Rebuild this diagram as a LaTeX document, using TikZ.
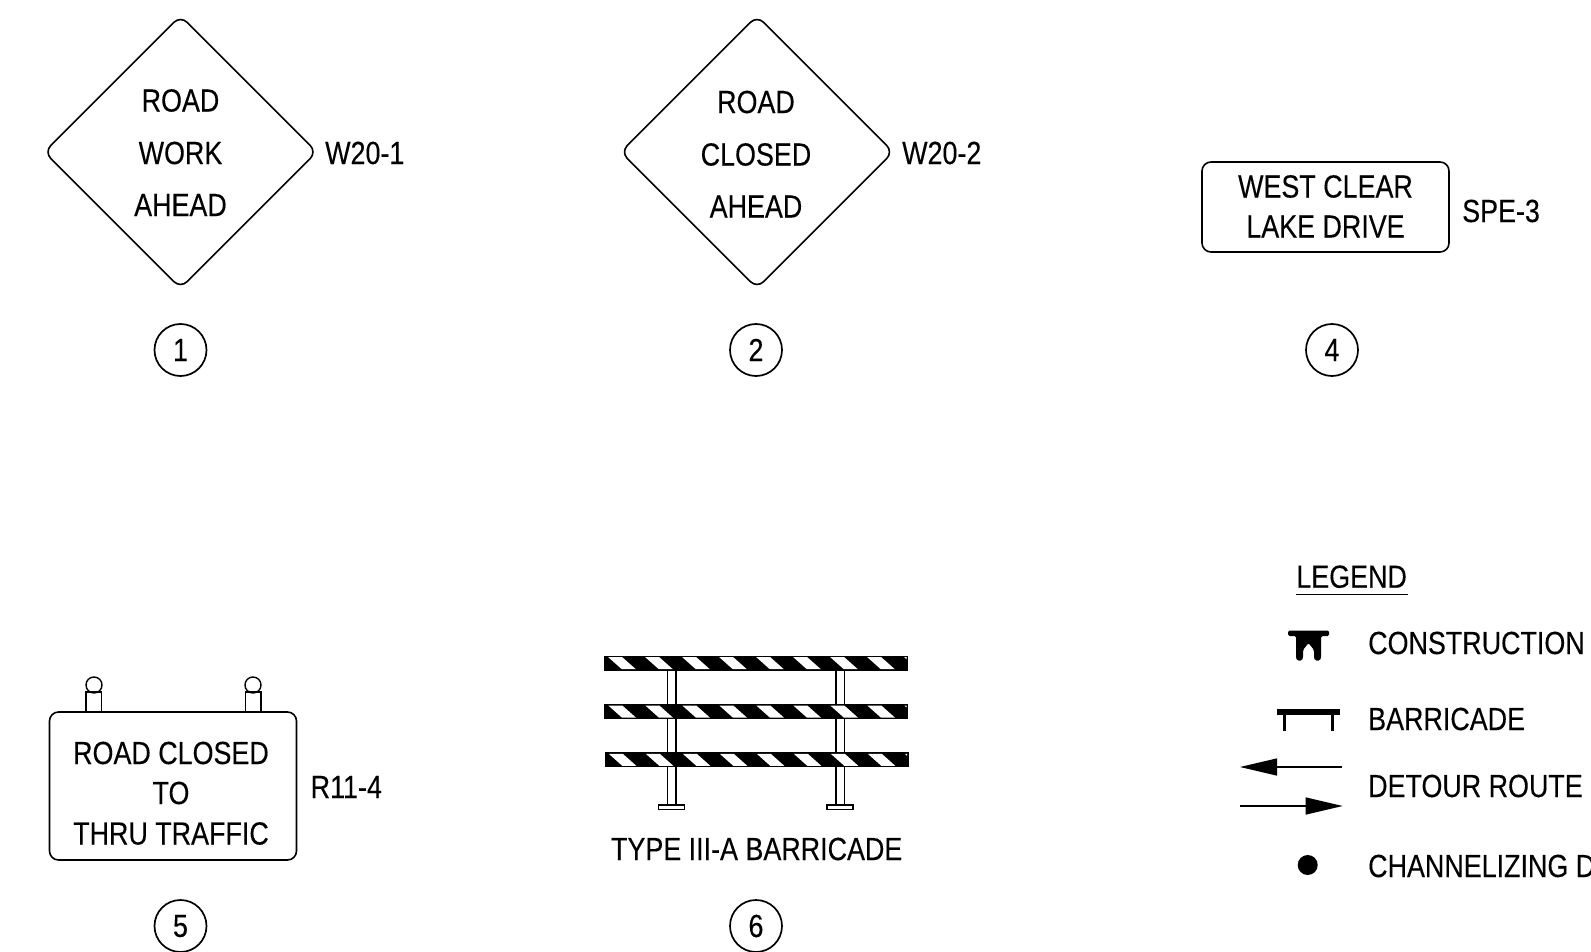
\documentclass[tikz,border=0pt]{standalone}
\usepackage{fontspec}
\usetikzlibrary{shapes.geometric,arrows.meta}
\newfontfamily\signfont[FakeStretch=0.84,FakeBold=0.2]{Liberation Sans}
\tikzset{
  lbl/.style={font=\signfont\fontsize{32}{34}\selectfont,inner sep=0pt,text=black,anchor=center},
  lblL/.style={lbl,anchor=west},
  signdia/.style={shape=diamond,draw,line width=1.6pt,rounded corners=9pt,minimum width=273pt,minimum height=273pt,inner sep=0pt,aspect=1},
  signbox/.style={shape=rectangle,draw,line width=1.6pt,rounded corners=9pt,inner sep=0pt,fill=white},
  tag/.style={shape=circle,draw,line width=1.7pt,minimum size=52pt,inner sep=0pt,font=\signfont\fontsize{32}{34}\selectfont},
  thin1/.style={draw,line width=1.4pt},
  routeL/.style={line width=1.3pt,{Triangle[length=37pt,width=17pt]}-},
  routeR/.style={line width=1.3pt,-{Triangle[length=37pt,width=17pt]}},
}
\begin{document}
\begin{tikzpicture}[x=1pt,y=-1pt]
\useasboundingbox (0,0) rectangle (1591,952);
\begin{scope}
\clip (0,0) rectangle (1591,952);
% diamonds
\node[signdia] (d1) at (180.5,152) {};
\node[lbl] (d1a) at (180.5,100.5) {ROAD};
\node[lbl] (d1b) at (180.5,153) {WORK};
\node[lbl] (d1c) at (180.5,205) {AHEAD};
\node[lblL] (d1t) at (325,153) {W20-1};
\node[signdia] (d2) at (757,152) {};
\node[lbl] (d2a) at (756,102) {ROAD};
\node[lbl] (d2b) at (756,154.5) {CLOSED};
\node[lbl] (d2c) at (756,206.5) {AHEAD};
\node[lblL] (d2t) at (902,153) {W20-2};
% street sign
\node[signbox,minimum width=247pt,minimum height=90pt] (s3) at (1325.5,207) {};
\node[lbl] (s3a) at (1325.5,186.5) {WEST CLEAR};
\node[lbl] (s3b) at (1325.5,226.5) {LAKE DRIVE};
\node[lblL] (s3t) at (1462,211) {SPE-3};
% tags
\node[tag] (t1) at (180.5,350) {1};
\node[tag] (t2) at (756,350) {2};
\node[tag] (t4) at (1332,350) {4};
\node[tag] (t5) at (180.5,926) {5};
\node[tag] (t6) at (756,926) {6};
% R11-4 sign
\draw[thin1] (86,712) rectangle (101.5,692);
\draw[thin1] (245.5,712) rectangle (261,692);
\node[shape=circle,draw,line width=1.4pt,minimum size=16pt,inner sep=0pt] (k1) at (94,685) {};
\node[shape=circle,draw,line width=1.4pt,minimum size=16pt,inner sep=0pt] (k2) at (253,685) {};
\node[signbox,minimum width=247pt,minimum height=148pt] (s5) at (173,786) {};
\node[lbl] (s5a) at (171,753) {ROAD CLOSED};
\node[lbl] (s5b) at (171,793) {TO};
\node[lbl] (s5c) at (171,833.5) {THRU TRAFFIC};
\node[lblL] (s5t) at (310.5,787) {R11-4};
% barricade posts
\foreach \px in {667.7,836}{
  \draw[thin1] (\px,665) rectangle (\px+8.3,805);
  \draw[thin1] (\px-9,805) rectangle (\px+17,809.3);
}
% barricade rails
\foreach \yt/\xo in {655.7/0,704/0,752.3/0.5}{
  \fill[black] (604+\xo,\yt) rectangle (908+\xo,\yt+15);
  \begin{scope}
  \clip (605+\xo,\yt+1.5) rectangle (906.5+\xo,\yt+13.5);
  \foreach \i in {0,...,8}{
    \fill[white] (608.3+\xo+37*\i,\yt+1.5) -- ++(14,0) -- ++(13.5,12) -- ++(-14,0) -- cycle;
  }
  \end{scope}
}
\node[lbl] (b6) at (756.7,849) {TYPE III-A BARRICADE};
% legend
\node[lbl] (lg) at (1351.6,576.7) {LEGEND};
\coordinate (lgA) at (1296,594.5);
\coordinate (lgB) at (1408,594.5);
\draw[line width=1.8pt] (lgA) -- (lgB);
\fill[black,rounded corners=1.5pt] (1288,630.5) -- (1329,630.5) -- (1329,636) -- (1321,636) -- (1321,658) -- (1320,660.5) -- (1315,660.5) -- (1314,658) -- (1314,650) -- (1308.5,643) -- (1303,650) -- (1303,658) -- (1302,660.5) -- (1297,660.5) -- (1296,658) -- (1296,636) -- (1288,636) -- cycle;
\node[lblL] (lg1) at (1368,643) {CONSTRUCTION};
\fill[black] (1277,709) rectangle (1340,714.7);
\fill[black] (1283.3,714) rectangle (1285.6,730.7);
\fill[black] (1331.3,714) rectangle (1333.6,730.7);
\node[lblL] (lg2) at (1368,719) {BARRICADE};
\coordinate (a1) at (1240,767);
\coordinate (a2) at (1341.7,767);
\coordinate (a3) at (1240,806);
\coordinate (a4) at (1342.7,806);
\draw[routeL] (a1) -- (a2);
\draw[routeR] (a3) -- (a4);
\node[lblL] (lg3) at (1368,786) {DETOUR ROUTE};
\node[shape=circle,fill=black,minimum size=20pt,inner sep=0pt] (dot) at (1307.7,865) {};
\node[lblL] (lg4) at (1368,866) {CHANNELIZING D};
\end{scope}
\end{tikzpicture}
\end{document}
